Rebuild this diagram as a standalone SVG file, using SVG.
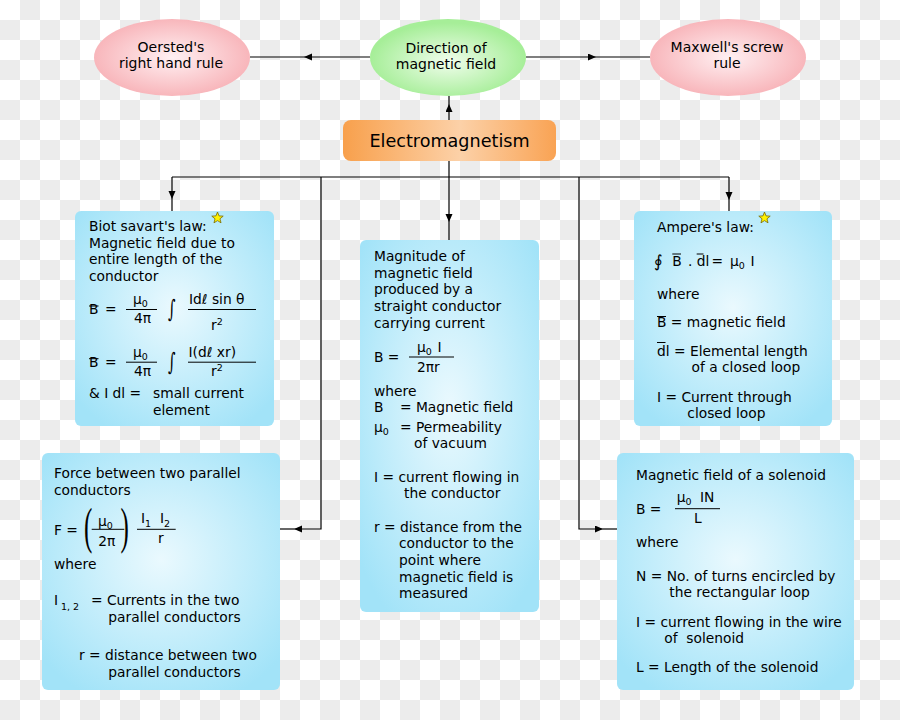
<svg xmlns="http://www.w3.org/2000/svg" width="900" height="720" viewBox="0 0 900 720">
<defs>
<pattern id="chk" width="40" height="40" patternUnits="userSpaceOnUse">
<rect width="40" height="40" fill="#ffffff"/>
<rect x="20" y="0" width="20" height="20" fill="#ececec"/>
<rect x="0" y="20" width="20" height="20" fill="#ececec"/>
</pattern>
<radialGradient id="gPink" cx="50%" cy="50%" r="50%">
<stop offset="0" stop-color="#fff0f2"/>
<stop offset="1" stop-color="#f8b6bb"/>
</radialGradient>
<radialGradient id="gGreen" cx="50%" cy="55%" r="50%">
<stop offset="0" stop-color="#f0fdec"/>
<stop offset="1" stop-color="#a6ee98"/>
</radialGradient>
<linearGradient id="gOrange" x1="0" y1="0" x2="1" y2="0">
<stop offset="0" stop-color="#f8a04c"/>
<stop offset="0.55" stop-color="#fcd1a8"/>
<stop offset="1" stop-color="#f9a354"/>
</linearGradient>
<radialGradient id="gBlue" cx="50%" cy="45%" r="65%">
<stop offset="0" stop-color="#eaf9fe"/>
<stop offset="1" stop-color="#a2e3f8"/>
</radialGradient>
<marker id="arr" markerWidth="8" markerHeight="8" refX="8" refY="3.5" orient="auto" markerUnits="userSpaceOnUse">
<path d="M0,0 L8,3.5 L0,7 z" fill="#000"/>
</marker>
<path id="star" d="M0,-6 L1.53,-2.1 L5.71,-1.85 L2.47,0.8 L3.53,4.85 L0,2.6 L-3.53,4.85 L-2.47,0.8 L-5.71,-1.85 L-1.53,-2.1 z"/>
<style>
.t{font-family:"DejaVu Sans",Verdana,sans-serif;font-size:13.8px;fill:#000}
.e{font-family:"DejaVu Sans",Verdana,sans-serif;font-size:14px;fill:#000;text-anchor:middle}
.s{font-size:9.5px}
.ln{stroke:#000;stroke-width:1.2;fill:none}
.fr{stroke:#000;stroke-width:1}
.box{fill:url(#gBlue)}
.star{fill:#fff200;stroke:#7a6a00;stroke-width:0.8}
.par{font-family:"Liberation Serif","DejaVu Serif",serif;font-size:50px;fill:#000}
.int{font-family:"DejaVu Serif","DejaVu Sans",serif;font-size:24px;fill:#000}
</style>
</defs>

<rect width="900" height="720" fill="url(#chk)"/>

<g id="connectors">
<path class="ln" d="M370,57 H304" marker-end="url(#arr)"/><path class="ln" d="M304,57 H250"/>
<path class="ln" d="M526,57 H596" marker-end="url(#arr)"/><path class="ln" d="M596,57 H650"/>
<path class="ln" d="M449,120 V104" marker-end="url(#arr)"/><path class="ln" d="M449,104 V96"/>
<path class="ln" d="M449,161 V222" marker-end="url(#arr)"/><path class="ln" d="M449,222 V240"/>
<path class="ln" d="M172,177 H729"/>
<path class="ln" d="M172,177 V199" marker-end="url(#arr)"/><path class="ln" d="M172,199 V211"/>
<path class="ln" d="M729,177 V200" marker-end="url(#arr)"/><path class="ln" d="M729,200 V211"/>
<path class="ln" d="M321,177 V529 H294" marker-end="url(#arr)"/><path class="ln" d="M294,529 H280"/>
<path class="ln" d="M579,177 V529 H603" marker-end="url(#arr)"/><path class="ln" d="M603,529 H617"/>
</g>

<g id="oersted">
<ellipse cx="172" cy="57.5" rx="78" ry="38.5" fill="url(#gPink)"/>
<text class="e" x="171" y="51.5">Oersted's</text>
<text class="e" x="171" y="67.5">right hand rule</text>
</g>

<g id="direction">
<ellipse cx="448" cy="57.5" rx="78" ry="38.5" fill="url(#gGreen)"/>
<text class="e" x="446" y="52.5">Direction of</text>
<text class="e" x="446" y="68.5">magnetic field</text>
</g>

<g id="maxwell">
<ellipse cx="728" cy="57.5" rx="78" ry="38.5" fill="url(#gPink)"/>
<text class="e" x="727" y="52">Maxwell's screw</text>
<text class="e" x="727" y="68">rule</text>
</g>

<g id="electromagnetism">
<rect x="343" y="120" width="213" height="41" rx="8" fill="url(#gOrange)"/>
<text x="449.5" y="146.5" style="font-family:'DejaVu Sans',Verdana,sans-serif;font-size:17.6px;text-anchor:middle;fill:#000">Electromagnetism</text>
</g>

<g id="biot">
<rect class="box" x="75" y="211" width="199" height="215" rx="6"/>
<use href="#star" class="star" x="217.5" y="218"/>
<text class="t" x="89" y="231">Biot savart's law:</text>
<text class="t" x="89" y="247.7">Magnetic field due to</text>
<text class="t" x="89" y="264.3">entire length of the</text>
<text class="t" x="89" y="281">conductor</text>
<line class="fr" x1="89" y1="306" x2="98.5" y2="306"/>
<text class="t" x="89" y="314">B</text>
<text class="t" x="105" y="314">=</text>
<text class="t" x="133" y="304">μ<tspan class="s" dy="3">0</tspan></text>
<line class="fr" x1="126" y1="309.5" x2="157" y2="309.5"/>
<text class="t" x="134" y="323">4π</text>
<text class="int" transform="translate(168,317) scale(0.6,1)">∫</text>
<text class="t" x="189" y="304">Idℓ sin θ</text>
<line class="fr" x1="188" y1="309.5" x2="256" y2="309.5"/>
<text class="t" x="211" y="330">r<tspan class="s" dy="-5">2</tspan></text>
<line class="fr" x1="89" y1="358.7" x2="98.5" y2="358.7"/>
<text class="t" x="89" y="366.7">B</text>
<text class="t" x="105" y="366.7">=</text>
<text class="t" x="133" y="356.7">μ<tspan class="s" dy="3">0</tspan></text>
<line class="fr" x1="126" y1="362.2" x2="157" y2="362.2"/>
<text class="t" x="134" y="376">4π</text>
<text class="int" transform="translate(168,369.5) scale(0.6,1)">∫</text>
<text class="t" x="188.5" y="356.7">I(dℓ xr)</text>
<line class="fr" x1="188" y1="362.2" x2="256" y2="362.2"/>
<text class="t" x="211" y="376">r<tspan class="s" dy="-5">2</tspan></text>
<text class="t" x="89" y="398.3">&amp; I dl =</text>
<text class="t" x="153" y="398.3">small current</text>
<text class="t" x="153" y="415">element</text>
</g>

<g id="magnitude">
<rect class="box" x="360" y="240" width="179" height="372" rx="6"/>
<text class="t" x="374" y="261">Magnitude of</text>
<text class="t" x="374" y="277.7">magnetic field</text>
<text class="t" x="374" y="294.3">produced by a</text>
<text class="t" x="374" y="311">straight conductor</text>
<text class="t" x="374" y="327.7">carrying current</text>
<text class="t" x="374" y="362">B =</text>
<text class="t" x="417" y="352">μ<tspan class="s" dy="3">0</tspan><tspan dy="-3" x="437.5">I</tspan></text>
<line class="fr" x1="409" y1="357" x2="454" y2="357"/>
<text class="t" x="417" y="372">2πr</text>
<text class="t" x="374" y="395.5">where</text>
<text class="t" x="374" y="411.7">B</text>
<text class="t" x="400" y="411.7">= Magnetic field</text>
<text class="t" x="374" y="431.7">μ<tspan class="s" dy="3">0</tspan></text>
<text class="t" x="400" y="431.7">= Permeability</text>
<text class="t" x="414" y="448.3">of vacuum</text>
<text class="t" x="374" y="481.7">I = current flowing in</text>
<text class="t" x="404" y="498.3">the conductor</text>
<text class="t" x="374" y="531.7">r = distance from the</text>
<text class="t" x="399" y="548.3">conductor to the</text>
<text class="t" x="399" y="565">point where</text>
<text class="t" x="399" y="581.7">magnetic field is</text>
<text class="t" x="399" y="598.3">measured</text>
</g>

<g id="ampere">
<rect class="box" x="634" y="211" width="198" height="215" rx="6"/>
<use href="#star" class="star" x="764.5" y="218"/>
<text class="t" x="657" y="231.7">Ampere's law:</text>
<text class="t" x="654" y="266.5" style="font-size:17px">∮</text>
<line class="fr" x1="672.3" y1="254" x2="681" y2="254"/>
<text class="t" x="672.3" y="265.7">B</text>
<text class="t" x="688" y="265.7">.</text>
<line class="fr" x1="696.7" y1="254" x2="703.5" y2="254"/>
<text class="t" x="696.7" y="265.7">dl</text>
<text class="t" x="711.5" y="265.7">=</text>
<text class="t" x="730" y="265.7">μ<tspan class="s" dy="3">0</tspan><tspan dy="-3" x="750.5">I</tspan></text>
<text class="t" x="657" y="299">where</text>
<line class="fr" x1="657" y1="316.5" x2="666" y2="316.5"/>
<text class="t" x="657" y="326.5">B = magnetic field</text>
<line class="fr" x1="657" y1="342.5" x2="665.5" y2="342.5"/>
<text class="t" x="657" y="355.5">dl = Elemental length</text>
<text class="t" x="691.5" y="372">of a closed loop</text>
<text class="t" x="657" y="401.5">I = Current through</text>
<text class="t" x="687.3" y="418">closed loop</text>
</g>

<g id="force">
<rect class="box" x="42" y="453" width="238" height="237" rx="6"/>
<text class="t" x="54" y="478.3">Force between two parallel</text>
<text class="t" x="54" y="494.8">conductors</text>
<text class="t" x="54" y="535">F =</text>
<text class="par" transform="translate(84,542.5) scale(0.5,1)">(</text>
<text class="t" x="98" y="525.8">μ<tspan class="s" dy="3">0</tspan></text>
<line class="fr" x1="91.7" y1="529.3" x2="124.3" y2="529.3"/>
<text class="t" x="98.3" y="545.5">2π</text>
<text class="par" transform="translate(120.5,542.5) scale(0.5,1)">)</text>
<text class="t" x="141" y="522.7">I<tspan class="s" dy="4">1</tspan><tspan dy="-4" x="160">I</tspan><tspan class="s" dy="4">2</tspan></text>
<line class="fr" x1="137" y1="529.3" x2="175.7" y2="529.3"/>
<text class="t" x="158" y="542.5">r</text>
<text class="t" x="54" y="568.8">where</text>
<text class="t" x="54" y="605">I<tspan class="s" dy="5" x="61">1, 2</tspan></text>
<text class="t" x="91" y="605">= Currents in the two</text>
<text class="t" x="108.3" y="621.5">parallel conductors</text>
<text class="t" x="79" y="660">r = distance between two</text>
<text class="t" x="108.3" y="676.7">parallel conductors</text>
</g>

<g id="solenoid">
<rect class="box" x="617" y="453" width="237" height="237" rx="6"/>
<text class="t" x="636" y="480">Magnetic field of a solenoid</text>
<text class="t" x="636" y="514">B =</text>
<text class="t" x="676.7" y="501.7">μ<tspan class="s" dy="3">0</tspan><tspan dy="-3" x="700">IN</tspan></text>
<line class="fr" x1="675" y1="508.7" x2="720" y2="508.7"/>
<text class="t" x="694" y="523.3">L</text>
<text class="t" x="636" y="546.5">where</text>
<text class="t" x="636" y="580.7">N = No. of turns encircled by</text>
<text class="t" x="669.3" y="597.3">the rectangular loop</text>
<text class="t" x="636" y="626.7">I = current flowing in the wire</text>
<text class="t" x="664.3" y="643.3" xml:space="preserve">of  solenoid</text>
<text class="t" x="636" y="671.7">L = Length of the solenoid</text>
</g>
</svg>
